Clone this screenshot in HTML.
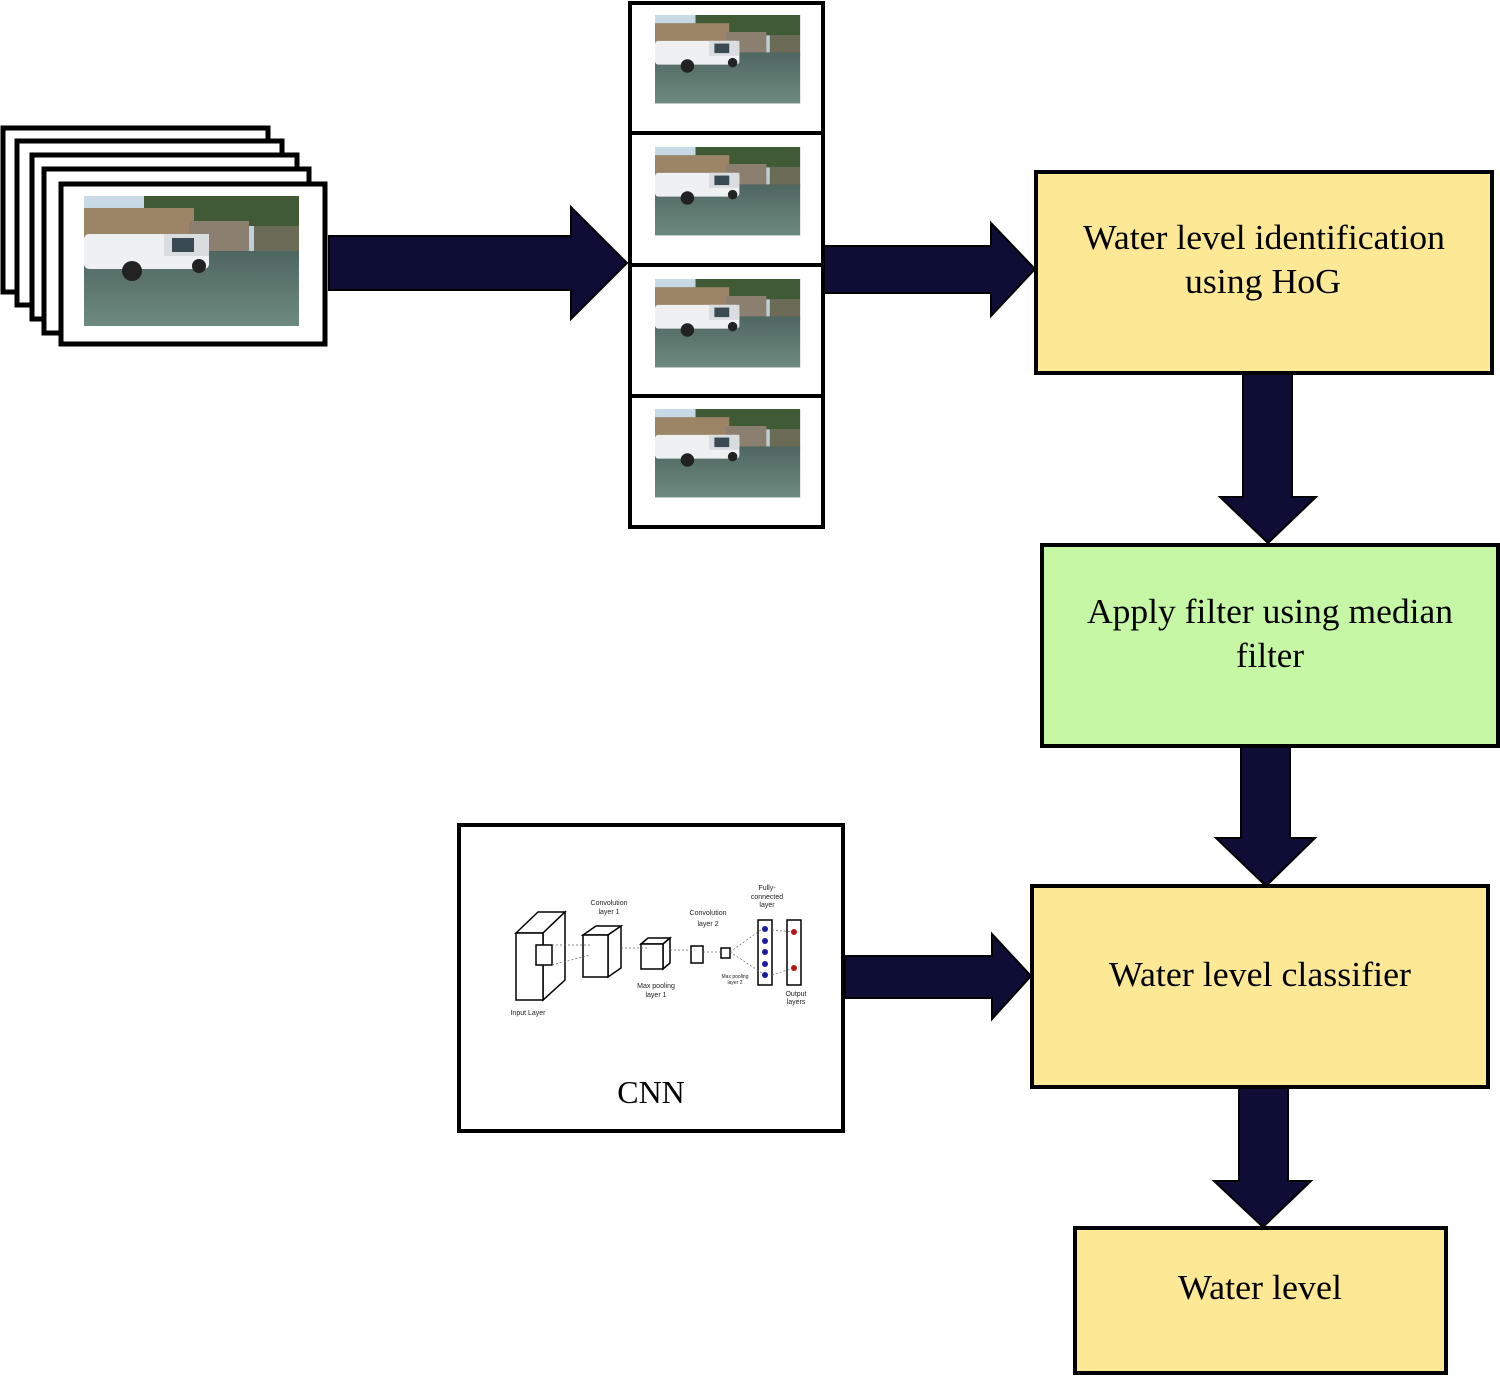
<!DOCTYPE html>
<html><head><meta charset="utf-8"><style>html,body{margin:0;padding:0;background:#fff}svg{display:block}</style></head>
<body>
<svg width="1500" height="1376" viewBox="0 0 1500 1376" xmlns="http://www.w3.org/2000/svg" font-family="'Liberation Serif', serif">
<defs>
<linearGradient id="sky" x1="0" y1="0" x2="0" y2="1"><stop offset="0" stop-color="#c8dbe6"/><stop offset="1" stop-color="#a9bcc4"/></linearGradient>
<linearGradient id="wat" x1="0" y1="0" x2="0" y2="1"><stop offset="0" stop-color="#4f6660"/><stop offset="1" stop-color="#6d8a80"/></linearGradient>
<g id="photo">
<rect x="0" y="0" width="215" height="130" fill="url(#sky)"/>
<rect x="60" y="0" width="155" height="30" fill="#3f5a35"/>
<rect x="0" y="12" width="110" height="45" fill="#9c8466"/>
<rect x="105" y="25" width="60" height="35" fill="#8b8070"/>
<rect x="170" y="30" width="45" height="30" fill="#6b6a55"/>
<rect x="0" y="55" width="215" height="75" fill="url(#wat)"/>
<rect x="0" y="45" width="90" height="20" fill="#2c3035"/>
<rect x="0" y="38" width="125" height="35" rx="5" fill="#eef0f2"/>
<rect x="80" y="38" width="45" height="22" fill="#d9dde0"/>
<rect x="88" y="42" width="22" height="14" fill="#3a4a52"/>
<circle cx="48" cy="75" r="10" fill="#222"/><circle cx="115" cy="70" r="7" fill="#222"/>
</g>
</defs>

<g fill="#fff" stroke="#000" stroke-width="5">
<rect x="3" y="128" width="265" height="164"/>
<rect x="17" y="141" width="265" height="164"/>
<rect x="32" y="155" width="265" height="164"/>
<rect x="44" y="169" width="265" height="164"/>
<rect x="61" y="184" width="264" height="160"/>
</g>
<use href="#photo" transform="translate(84,196)"/>

<g fill="#fff" stroke="#000" stroke-width="4">
<rect x="630" y="3" width="193" height="130"/>
<rect x="630" y="133" width="193" height="132"/>
<rect x="630" y="265" width="193" height="131"/>
<rect x="630" y="396" width="193" height="131"/>
</g>
<use href="#photo" transform="translate(655,15) scale(0.675,0.68)"/>
<use href="#photo" transform="translate(655,147) scale(0.675,0.68)"/>
<use href="#photo" transform="translate(655,279) scale(0.675,0.68)"/>
<use href="#photo" transform="translate(655,409) scale(0.675,0.68)"/>

<g fill="#0d0d35" stroke="#000" stroke-width="2">
<polygon points="329,236 571,236 571,207 627,263 571,319 571,290 329,290"/>
<polygon points="824,246 991,246 991,223 1035,269 991,316 991,293 824,293"/>
<polygon points="1243,370 1292,370 1292,497 1316,497 1268,543 1220,497 1243,497"/>
<polygon points="1241,747 1290,747 1290,838 1315,838 1266,886 1216,838 1241,838"/>
<polygon points="1239,1088 1288,1088 1288,1181 1311,1181 1263,1227 1214,1181 1239,1181"/>
<polygon points="845,956 992,956 992,934 1031,976 992,1019 992,998 845,998"/>
</g>

<g stroke="#000" stroke-width="4">
<rect x="1036" y="172" width="456" height="201" fill="#fde895"/>
<rect x="1042" y="545" width="456" height="201" fill="#c6f7a4"/>
<rect x="1032" y="886" width="456" height="201" fill="#fde895"/>
<rect x="1075" y="1228" width="371" height="145" fill="#fde895"/>
<rect x="459" y="825" width="384" height="306" fill="#fff"/>
</g>
<g font-size="35" text-anchor="middle" fill="#000">
<text x="1264" y="249" textLength="362" lengthAdjust="spacingAndGlyphs">Water level identification</text>
<text x="1263" y="293" textLength="156" lengthAdjust="spacingAndGlyphs">using HoG</text>
<text x="1270" y="623" textLength="366" lengthAdjust="spacingAndGlyphs">Apply filter using median</text>
<text x="1270" y="667">filter</text>
<text x="1260" y="986" textLength="302" lengthAdjust="spacingAndGlyphs">Water level classifier</text>
<text x="1260" y="1299" textLength="164" lengthAdjust="spacingAndGlyphs">Water level</text>
<text x="651" y="1103" font-size="32">CNN</text>
</g>

<g stroke="#000" stroke-width="1.5" fill="#fff">
<polygon points="516,933 538,912 565,912 543,933"/>
<polygon points="543,933 565,912 565,980 543,1000"/>
<rect x="516" y="933" width="27" height="67"/>
<rect x="536" y="945" width="16" height="20"/>
<polygon points="583,935 596,926 621,926 608,935"/>
<polygon points="608,935 621,926 621,968 608,977"/>
<rect x="583" y="935" width="25" height="42"/>
<polygon points="641,944 648,938 670,938 663,944"/>
<polygon points="663,944 670,938 670,963 663,969"/>
<rect x="641" y="944" width="22" height="25"/>
<rect x="691" y="946" width="12" height="17"/>
<rect x="721" y="948" width="9" height="10"/>
<rect x="758" y="920" width="14" height="65"/>
<rect x="787" y="920" width="14" height="65"/>
</g>
<g stroke="#666" stroke-width="0.7" stroke-dasharray="2,2" fill="none">
<path d="M552,945 L590,945 M552,965 L590,955 M621,948 L648,948 M670,950 L695,950 M703,952 L722,952 M730,952 L765,927 M730,952 L765,975 M772,930 L794,932 M772,975 L794,968"/>
</g>
<g fill="#1a1aa0"><circle cx="765" cy="929" r="3"/><circle cx="765" cy="941" r="3"/><circle cx="765" cy="952" r="3"/><circle cx="765" cy="964" r="3"/><circle cx="765" cy="975" r="3"/></g>
<g fill="#b01818"><circle cx="794" cy="932" r="3"/><circle cx="794" cy="968" r="3"/></g>
<g font-family="'Liberation Sans', sans-serif" font-size="7" fill="#222" text-anchor="middle">
<text x="609" y="905">Convolution</text><text x="609" y="914">layer 1</text>
<text x="708" y="915">Convolution</text><text x="708" y="926">layer 2</text>
<text x="767" y="890">Fully-</text><text x="767" y="899">connected</text><text x="767" y="907">layer</text>
<text x="656" y="988">Max pooling</text><text x="656" y="997">layer 1</text>
<text x="735" y="978" font-size="5">Max pooling</text><text x="735" y="984" font-size="5">layer 2</text>
<text x="796" y="996">Output</text><text x="796" y="1004">layers</text>
<text x="528" y="1015">Input Layer</text>
</g>
</svg>
</body></html>
